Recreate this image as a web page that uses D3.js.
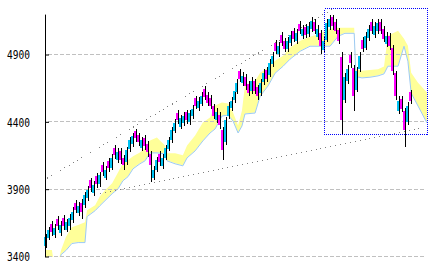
<!DOCTYPE html>
<html>
<head>
<meta charset="utf-8">
<script src="https://cdnjs.cloudflare.com/ajax/libs/d3/7.8.5/d3.min.js"></script>
<style>
body { margin: 0; background: #fff; }
svg { display: block; }
</style>
</head>
<body>
<svg width="432" height="270"></svg>
<script>
// daily candles (open / high / low / close)
var opens = [
3480,3540,3640,3560,3680,3575,3685,3600,3625,3670,
3800,3720,3800,3780,3835,3965,3870,4000,3935,4080,
3985,4110,4060,4205,4115,4185,4135,4100,4195,4235,
4335,4300,4205,4280,4235,4160,3985,4045,4160,4070,
4135,4200,4265,4335,4465,4365,4390,4470,4400,4440,
4575,4500,4535,4645,4600,4580,4515,4410,4450,4340,
4250,4440,4500,4560,4625,4775,4685,4735,4680,4630,
4700,4655,4615,4695,4785,4750,4830,4985,4905,5045,
5000,4940,4985,5075,5000,5130,5035,5105,5050,5090,
5140,5030,5060,4935,5010,5105,5175,5140,5080,4880,
4560,4700,4895,4800,4640,4790,5010,4950,5020,5140,
5045,5075,5145,5090,4975,5040,4950,4760,4480,4570,
4480,4400,4620];
var highs = [
3570,3620,3660,3640,3700,3660,3705,3680,3715,3765,
3820,3805,3825,3880,3920,3985,3960,4020,4030,4100,
4070,4130,4160,4225,4205,4205,4155,4215,4290,4320,
4350,4320,4290,4300,4255,4180,4070,4140,4180,4160,
4230,4290,4365,4420,4485,4450,4475,4490,4490,4525,
4595,4585,4625,4665,4620,4600,4535,4500,4470,4360,
4435,4550,4585,4660,4720,4795,4770,4755,4700,4735,
4720,4675,4720,4795,4805,4865,4920,5005,4995,5065,
5020,5030,5075,5095,5090,5150,5120,5125,5140,5180,
5160,5120,5080,5030,5160,5195,5195,5160,5100,4920,
4760,4825,4915,4820,4810,4920,5030,5065,5120,5160,
5140,5165,5165,5110,5065,5060,4970,4780,4590,4590,
4500,4545,4640];
var lows = [
3460,3520,3555,3540,3600,3555,3600,3580,3600,3650,
3720,3700,3680,3760,3815,3880,3850,3910,3915,4000,
3965,4030,4040,4125,4095,4090,4040,4080,4175,4215,
4250,4220,4185,4190,4140,3951,3965,4025,4075,4050,
4115,4180,4245,4315,4385,4345,4370,4385,4380,4420,
4495,4480,4515,4560,4515,4495,4420,4390,4345,4114,
4230,4420,4480,4540,4605,4695,4665,4640,4590,4610,
4605,4565,4595,4675,4695,4730,4810,4900,4885,4960,
4915,4920,4965,4990,4980,5050,5015,5020,5030,5070,
5050,5010,4900,4915,4990,5085,5085,5050,4975,4306,
4540,4680,4800,4480,4620,4770,4915,4930,5000,5050,
5025,5055,5050,4990,4955,4935,4750,4560,4460,4470,
4210,4380,4530];
var closes = [
3545,3596,3580,3610,3625,3633,3625,3655,3685,3730,
3745,3775,3730,3855,3892,3907,3930,3937,4003,4025,
4040,4055,4130,4150,4173,4114,4077,4188,4262,4292,
4277,4247,4262,4218,4173,4077,4040,4114,4100,4130,
4203,4262,4336,4395,4410,4425,4447,4410,4462,4499,
4521,4558,4595,4588,4543,4521,4447,4470,4373,4188,
4410,4521,4558,4632,4691,4721,4743,4669,4617,4706,
4632,4595,4691,4765,4721,4839,4891,4928,4965,4987,
4943,5002,5046,5017,5061,5076,5091,5046,5113,5150,
5076,5091,4965,5002,5135,5165,5113,5076,5002,4410,
4736,4795,4839,4595,4780,4891,4943,5039,5091,5076,
5113,5135,5076,5017,5039,4965,4780,4595,4558,4499,
4336,4521,4558];

// ichimoku cloud: position (in candle slots) and the two spans
var cloudIdx = [
-0.5,1.8,2.3,4.2,4.9,6.5,8.5,10.6,12.9,13.6,
16.3,17.9,19.6,22.0,24.0,25.6,27.3,29.0,31.3,33.0,
34.7,37.0,39.7,40.4,43.1,45.7,47.1,49.8,52.4,54.8,
56.5,58.8,60.8,62.5,64.2,65.5,66.5,69.9,71.6,74.2,
76.6,79.3,81.6,85.0,88.3,91.7,95.0,97.7,100.0,103.1,
103.7,105.7,108.4,111.1,113.1,114.4,117.8,119.8,121.1,122.2,
124.5,127.5];
var spanUpper = [
3448,3448,3381,3381,3448,3544,3618,3633,3655,3744,
3781,3848,3892,3944,4025,4092,4114,4144,4173,4203,
4262,4284,4225,4166,4166,4151,4225,4299,4395,4432,
4521,4543,4536,4469,4373,4484,4669,4706,4765,4802,
4854,4891,4950,5002,5032,5054,5091,5098,5098,5098,
4790,4780,4785,4790,4810,5039,5076,5017,4965,4765,
4691,4617];
var spanLower = [
3389,3389,3352,3352,3418,3448,3500,3507,3507,3700,
3744,3781,3818,3870,3907,3966,3996,4055,4092,4114,
4173,4173,4166,4114,4092,4077,4136,4188,4262,4321,
4351,4447,4454,4410,4321,4373,4462,4469,4595,4669,
4765,4817,4869,4928,4965,4965,4965,5039,5061,5061,
4740,4730,4735,4745,4760,4817,4817,4965,4854,4617,
4521,4395];

var tickValues = [3400, 3900, 4400, 4900];

// trend lines [slot, price] and the marked box
var trendUpper = [[0.2, 3981], [96.0, 5239]];
var trendLower = [[17.9, 3870], [125.2, 4351]];
var boxSlots = [93.0, 127.5];
var boxPrices = [4308, 5246];

var svg = d3.select("svg");

var x = d3.scaleLinear().domain([-0.5, 127.5]).range([45, 427]);
var y = d3.scaleLinear().domain([3400, 5200]).range([256.5, 14.1]);

var defs = svg.append("defs");
defs.append("clipPath").attr("id", "plot")
    .append("rect")
    .attr("x", 46).attr("y", 0)
    .attr("width", 381).attr("height", 257);

// cloud
var cloud = cloudIdx.map(function (d, i) {
    return {i: d, a: spanUpper[i], b: spanLower[i]};
});

var gc = svg.append("g").attr("clip-path", "url(#plot)");

gc.append("path")
    .datum(cloud)
    .attr("fill", "#ffff99")
    .attr("d", d3.area()
        .x(function (d) { return x(d.i); })
        .y0(function (d) { return y(d.b); })
        .y1(function (d) { return y(d.a); }));

gc.append("path")
    .datum(cloud)
    .attr("fill", "none")
    .attr("stroke", "#9ccaf4")
    .attr("stroke-width", 1)
    .attr("d", d3.line()
        .x(function (d) { return x(d.i); })
        .y(function (d) { return y(d.b) + 0.5; }));

// grid
svg.append("g")
    .attr("shape-rendering", "crispEdges")
    .selectAll("line")
    .data(tickValues)
    .enter().append("line")
    .attr("x1", 48).attr("x2", 426)
    .attr("y1", function (d) { return Math.floor(y(d)) + 0.5; })
    .attr("y2", function (d) { return Math.floor(y(d)) + 0.5; })
    .attr("stroke", "#c0c0c0")
    .attr("stroke-dasharray", "4,2");

// trend lines
[trendUpper, trendLower].forEach(function (t) {
    svg.append("line")
        .attr("x1", x(t[0][0])).attr("y1", y(t[0][1]))
        .attr("x2", x(t[1][0])).attr("y2", y(t[1][1]))
        .attr("stroke", "#808080")
        .attr("stroke-width", 1)
        .attr("shape-rendering", "crispEdges")
        .attr("stroke-dasharray", "1,4");
});

// candles
var candles = closes.map(function (c, i) {
    return {i: i, o: opens[i], h: highs[i], l: lows[i], c: c};
});

var g = svg.append("g").attr("shape-rendering", "crispEdges");

g.selectAll(".wick")
    .data(candles)
    .enter().append("rect")
    .attr("class", "wick")
    .attr("x", function (d) { return Math.round(x(d.i)); })
    .attr("y", function (d) { return Math.round(y(d.h)); })
    .attr("width", 1)
    .attr("height", function (d) { return Math.max(1, Math.round(y(d.l)) - Math.round(y(d.h))); })
    .attr("fill", "#000");

g.selectAll(".body")
    .data(candles)
    .enter().append("rect")
    .attr("class", "body")
    .attr("x", function (d) { return Math.round(x(d.i)) - 2; })
    .attr("y", function (d) { return Math.round(y(Math.max(d.o, d.c))); })
    .attr("width", 2)
    .attr("height", function (d) {
        return Math.max(1, Math.round(y(Math.min(d.o, d.c))) - Math.round(y(Math.max(d.o, d.c))));
    })
    .attr("fill", function (d) { return d.c >= d.o ? "#00c4f4" : "#ff00ff"; });

// box
svg.append("rect")
    .attr("x", Math.round(x(boxSlots[0])) + 0.5)
    .attr("y", Math.round(y(boxPrices[1])) + 0.5)
    .attr("width", Math.round(x(boxSlots[1])) - Math.round(x(boxSlots[0])))
    .attr("height", Math.round(y(boxPrices[0])) - Math.round(y(boxPrices[1])))
    .attr("fill", "none")
    .attr("stroke", "#0000ff")
    .attr("stroke-width", 1)
    .attr("shape-rendering", "crispEdges")
    .attr("stroke-dasharray", "1,1");

// axis
var axis = svg.append("g")
    .attr("transform", "translate(45,0)")
    .call(d3.axisLeft(y)
        .tickValues(tickValues)
        .tickSizeInner(-4)
        .tickSizeOuter(0)
        .tickPadding(15)
        .tickFormat(d3.format("d")));

axis.select(".domain").attr("stroke", "#000");
axis.selectAll(".tick line").attr("stroke", "#000");
axis.selectAll(".tick text")
    .attr("fill", "#000")
    .attr("font-family", "DejaVu Sans Mono")
    .attr("font-size", 13)
    .attr("textLength", 23)
    .attr("lengthAdjust", "spacingAndGlyphs");
</script>
</body>
</html>
